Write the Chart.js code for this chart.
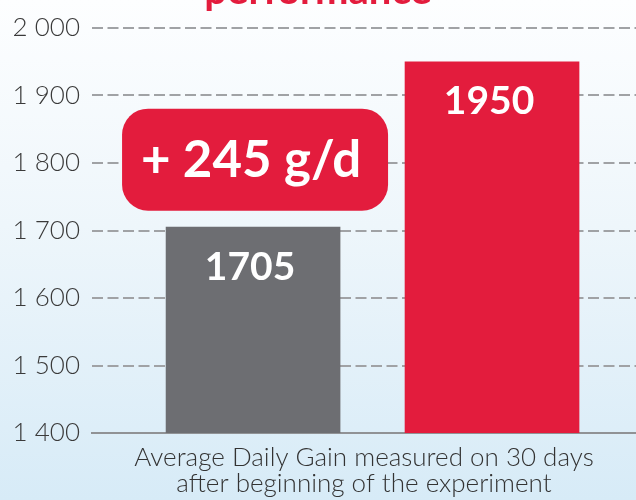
<!DOCTYPE html>
<html>
<head>
<meta charset="utf-8">
<script src="https://cdn.jsdelivr.net/npm/chart.js@4.4.1/dist/chart.umd.min.js"></script>
<style>
  body { margin: 0; }
  #wrap {
    width: 636px; height: 500px;
    background: linear-gradient(to bottom, #fdfeff 0%, #eef6fb 45%, #d7ebf7 100%);
  }
</style>
</head>
<body>
<div id="wrap"><canvas id="myChart" width="636" height="500"></canvas></div>
<script>
// data
const groups = ['Control', 'Trial'];
const adg = [1705, 1950];
const barColors = ['#6d6e72', '#e31c3d'];
const yTickLabels = ['1 400', '1 500', '1 600', '1 700', '1 800', '1 900', '2 000'];
const xTitle = ['Average Daily Gain measured on 30 days', 'after beginning of the experiment'];
const chartTitle = 'performance';

const RED = '#e31c3d';

// white numbers inside the top of each bar
const barLabels = {
  id: 'barLabels',
  afterDatasetsDraw(chart) {
    const ctx = chart.ctx;
    const meta = chart.getDatasetMeta(0);
    ctx.save();
    ctx.fillStyle = '#fff';
    ctx.font = 'bold 39px Lato';
    ctx.textAlign = 'center';
    ctx.textBaseline = 'middle';
    meta.data.forEach((bar, i) => {
      ctx.fillText(String(adg[i]), bar.x - 3, bar.y + 40);
    });
    ctx.restore();
  }
};

// red rounded box with the difference
const diffBox = {
  id: 'diffBox',
  afterDatasetsDraw(chart) {
    const ctx = chart.ctx;
    const bar = chart.getDatasetMeta(0).data[0];
    const cx = bar.x + 2;
    const cy = chart.scales.y.getPixelForValue(1805);
    const w = 266, h = 102;
    ctx.save();
    ctx.fillStyle = RED;
    ctx.beginPath();
    ctx.roundRect(cx - w / 2, cy - h / 2, w, h, 26);
    ctx.fill();
    ctx.fillStyle = '#fff';
    ctx.font = 'bold 51px Lato';
    ctx.textAlign = 'center';
    ctx.textBaseline = 'middle';
    ctx.fillText('+ ' + (adg[1] - adg[0]) + ' g/d', cx - 4, cy + 1);
    ctx.restore();
  }
};

const ctx = document.getElementById('myChart');

new Chart(ctx, {
  type: 'bar',
  data: {
    labels: groups,
    datasets: [{
      data: adg.map((v, i) => ({ x: i + 1, y: v })),
      backgroundColor: barColors,
      borderWidth: 0,
      barThickness: 174
    }]
  },
  options: {
    responsive: false,
    animation: false,
    layout: { padding: 0 },
    plugins: {
      legend: { display: false },
      tooltip: { enabled: false },
      title: {
        display: true,
        text: chartTitle,
        color: RED,
        font: { family: 'Lato', size: 40, weight: 'bold' },
        padding: { top: -33, bottom: 13 }
      }
    },
    scales: {
      x: {
        type: 'linear',
        min: 0.326,
        max: 2.6025,
        offset: false,
        ticks: { display: false },
        grid: { display: false },
        border: { display: true, color: '#909295', width: 2 },
        title: {
          display: true,
          text: xTitle,
          color: '#333',
          font: { family: 'Lato', size: 26, weight: 300, lineHeight: 1 },
          padding: { top: 0, bottom: 3 }
        },
        afterFit(scale) { scale.height = 67; }
      },
      y: {
        min: 1400,
        max: 2000,
        ticks: {
          stepSize: 100,
          padding: 12,
          color: '#3a3a3a',
          font: { family: 'Lato', size: 26, weight: 300 },
          callback: (v, i) => yTickLabels[i]
        },
        grid: {
          drawTicks: false,
          color: '#a0a2a5',
          lineWidth: 2
        },
        border: {
          display: false,
          dash: [11, 4.5]
        },
        afterFit(scale) { scale.width = 92; }
      }
    }
  },
  plugins: [barLabels, diffBox]
});
</script>
</body>
</html>
